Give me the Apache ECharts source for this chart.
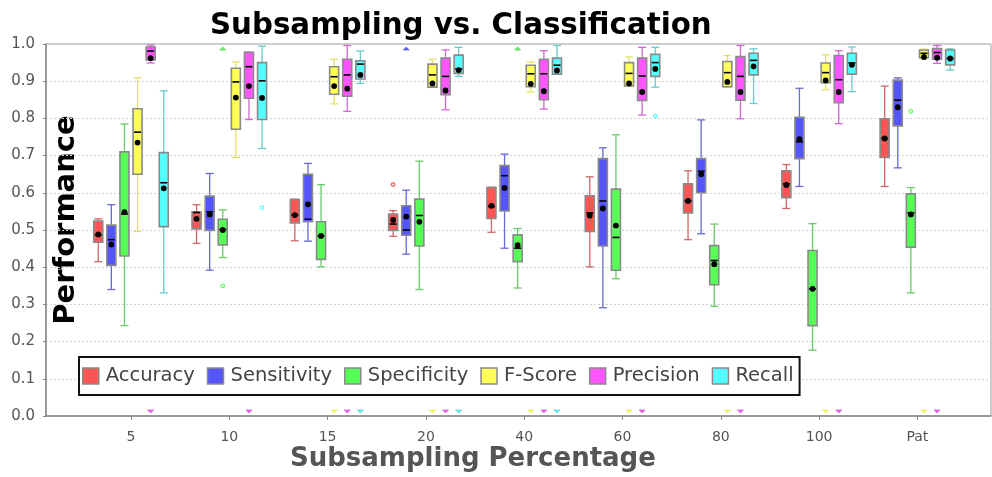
<!DOCTYPE html>
<html>
<head>
<meta charset="utf-8">
<script src="https://cdn.jsdelivr.net/npm/echarts@6/dist/echarts.min.js"></script>
<style>
  html, body { margin: 0; padding: 0; background: #fff; }
  #chart { width: 992px; height: 477px; }
</style>
</head>
<body>
<div id="chart"></div>
<script>
// Subsampling levels on the x axis
const categories = ['5', '10', '15', '20', '40', '60', '80', '100', 'Pat'];
const metricNames = ['Accuracy', 'Sensitivity', 'Specificity', 'F-Score', 'Precision', 'Recall'];

// Box statistics per level: [min, Q1, median, Q3, max]
const accuracyBox = [
  [0.415, 0.467, 0.487, 0.524, 0.530], [0.464, 0.503, 0.547, 0.549, 0.568],
  [0.471, 0.519, 0.540, 0.582, 0.583], [0.483, 0.499, 0.516, 0.543, 0.552],
  [0.494, 0.531, 0.563, 0.614, 0.615], [0.401, 0.496, 0.546, 0.592, 0.643],
  [0.474, 0.546, 0.578, 0.624, 0.659], [0.558, 0.587, 0.624, 0.659, 0.676],
  [0.617, 0.695, 0.746, 0.799, 0.887]
];
const accuracyMean = [0.488, 0.530, 0.540, 0.527, 0.565, 0.539, 0.578, 0.621, 0.746];

const sensitivityBox = [
  [0.340, 0.405, 0.474, 0.513, 0.568], [0.392, 0.499, 0.549, 0.591, 0.652],
  [0.470, 0.522, 0.529, 0.650, 0.679], [0.435, 0.486, 0.500, 0.565, 0.607],
  [0.451, 0.551, 0.646, 0.673, 0.704], [0.291, 0.457, 0.578, 0.692, 0.721],
  [0.490, 0.600, 0.658, 0.692, 0.796], [0.617, 0.692, 0.737, 0.803, 0.881],
  [0.667, 0.780, 0.849, 0.903, 0.909]
];
const sensitivityMean = [0.461, 0.542, 0.569, 0.536, 0.613, 0.558, 0.650, 0.744, 0.830];

const specificityBox = [
  [0.243, 0.430, 0.543, 0.710, 0.785], [0.426, 0.460, 0.501, 0.529, 0.554],
  [0.401, 0.421, 0.484, 0.522, 0.622], [0.340, 0.457, 0.539, 0.583, 0.685],
  [0.344, 0.415, 0.451, 0.487, 0.504], [0.369, 0.392, 0.480, 0.610, 0.756],
  [0.295, 0.353, 0.418, 0.458, 0.516], [0.177, 0.243, 0.342, 0.445, 0.517],
  [0.331, 0.454, 0.546, 0.597, 0.614]
];
const specificityMean = [0.548, 0.500, 0.484, 0.522, 0.459, 0.512, 0.408, 0.342, 0.542];

const fScoreBox = [
  [0.496, 0.650, 0.763, 0.826, 0.909], [0.695, 0.771, 0.898, 0.935, 0.952],
  [0.839, 0.865, 0.912, 0.939, 0.959], [0.883, 0.884, 0.917, 0.946, 0.959],
  [0.871, 0.885, 0.920, 0.943, 0.952], [0.887, 0.887, 0.921, 0.950, 0.965],
  [0.884, 0.885, 0.923, 0.953, 0.969], [0.877, 0.896, 0.923, 0.949, 0.971],
  [0.960, 0.963, 0.975, 0.984, 0.986]
];
const fScoreMean = [0.735, 0.856, 0.887, 0.894, 0.893, 0.894, 0.898, 0.902, 0.965];

const precisionBox = [
  [0.949, 0.957, 0.981, 0.992, 0.997], [0.797, 0.854, 0.939, 0.978, 0.978],
  [0.819, 0.860, 0.917, 0.959, 0.996], [0.823, 0.864, 0.913, 0.962, 0.984],
  [0.825, 0.850, 0.920, 0.959, 0.982], [0.809, 0.848, 0.914, 0.962, 0.991],
  [0.799, 0.849, 0.913, 0.966, 0.996], [0.786, 0.842, 0.904, 0.969, 0.982],
  [0.948, 0.959, 0.977, 0.988, 0.996]
];
const precisionMean = [0.962, 0.887, 0.880, 0.875, 0.873, 0.871, 0.871, 0.871, 0.963];

const recallBox = [
  [0.331, 0.509, 0.627, 0.708, 0.874], [0.719, 0.797, 0.901, 0.950, 0.994],
  [0.894, 0.906, 0.946, 0.955, 0.981], [0.913, 0.921, 0.933, 0.970, 0.991],
  [0.919, 0.919, 0.943, 0.962, 0.996], [0.884, 0.913, 0.950, 0.972, 0.991],
  [0.840, 0.917, 0.956, 0.975, 0.987], [0.872, 0.919, 0.949, 0.975, 0.992],
  [0.930, 0.944, 0.961, 0.984, 0.987]
];
const recallMean = [0.612, 0.855, 0.917, 0.930, 0.929, 0.933, 0.940, 0.944, 0.961];

// Single outliers: [metric, level, value]
const outliers = [
  ['Accuracy', '20', 0.622],
  ['Specificity', '10', 0.350],
  ['Specificity', 'Pat', 0.819],
  ['Recall', '10', 0.560],
  ['Recall', '60', 0.806]
];

// Far-out markers, drawn at the upper / lower bound of the value axis
const farOutHigh = [['Specificity', '10'], ['Sensitivity', '20'], ['Specificity', '40']];
const farOutLow = [
  ['Precision', '5'], ['Precision', '10'],
  ['F-Score', '15'], ['Precision', '15'], ['Recall', '15'],
  ['F-Score', '20'], ['Precision', '20'], ['Recall', '20'],
  ['F-Score', '40'], ['Precision', '40'], ['Recall', '40'],
  ['F-Score', '60'], ['Precision', '60'],
  ['F-Score', '80'], ['Precision', '80'],
  ['F-Score', '100'], ['Precision', '100'],
  ['F-Score', 'Pat'], ['Precision', 'Pat']
];

const boxes = [accuracyBox, sensitivityBox, specificityBox, fScoreBox, precisionBox, recallBox];
const means = [accuracyMean, sensitivityMean, specificityMean, fScoreMean, precisionMean, recallMean];

const fillColors = ['#ff5555', '#5555ff', '#55ff55', '#ffff55', '#ff55ff', '#55ffff'];
const whiskerColors = ['#d06868', '#6868d8', '#68cc68', '#e2e26a', '#d068d0', '#68cccc'];
const FONT = '"DejaVu Sans", Verdana, sans-serif';
const AXIS_MIN = 0, AXIS_MAX = 1;

function makeRenderer(k) {
  const name = metricNames[k];
  const BOX_STEP_RATIO = 0.1333;   // spacing of the six boxes, as share of the band
  const BOX_W = 9;
  return function (params, api) {
    const idx = api.value(0);
    const cat = categories[idx];
    const band = api.size([1, 0])[0];
    const x = api.coord([idx, 0])[0] + (k - 2.5) * band * BOX_STEP_RATIO;
    const py = v => api.coord([idx, v])[1];
    const half = BOX_W / 2;
    const wc = whiskerColors[k];
    const yMin = py(api.value(1)), yQ1 = py(api.value(2)), yMed = py(api.value(3));
    const yQ3 = py(api.value(4)), yMax = py(api.value(5)), yMean = py(api.value(6));
    const wStyle = { stroke: wc, lineWidth: 1.3 };
    const children = [
      { type: 'line', shape: { x1: x, y1: yMax, x2: x, y2: yMin }, style: wStyle },
      { type: 'line', shape: { x1: x - half + 0.5, y1: yMax, x2: x + half - 0.5, y2: yMax }, style: wStyle },
      { type: 'line', shape: { x1: x - half + 0.5, y1: yMin, x2: x + half - 0.5, y2: yMin }, style: wStyle },
      { type: 'rect', shape: { x: x - half, y: yQ3, width: BOX_W, height: yQ1 - yQ3 },
        style: { fill: fillColors[k], stroke: '#8a8a8a', lineWidth: 1.6 } },
      { type: 'line', shape: { x1: x - half + 1, y1: yMed, x2: x + half - 1, y2: yMed },
        style: { stroke: '#000', lineWidth: 1.6 } },
      { type: 'circle', shape: { cx: x, cy: yMean, r: 2.9 }, style: { fill: '#000' } }
    ];
    outliers.forEach(o => {
      if (o[0] === name && o[1] === cat) {
        children.push({ type: 'circle', shape: { cx: x, cy: py(o[2]), r: 1.8 },
          style: { fill: 'none', stroke: fillColors[k], lineWidth: 1.2 } });
      }
    });
    const a = 3;
    farOutHigh.forEach(o => {
      if (o[0] === name && o[1] === cat) {
        const t = py(AXIS_MAX) + a;
        children.push({ type: 'polygon', shape: { points: [[x - a, t + a], [x + a, t + a], [x, t]] },
          style: { fill: fillColors[k], stroke: wc, lineWidth: 0.8 } });
      }
    });
    farOutLow.forEach(o => {
      if (o[0] === name && o[1] === cat) {
        const t = py(AXIS_MIN) - a;
        children.push({ type: 'polygon', shape: { points: [[x - a, t - a], [x + a, t - a], [x, t]] },
          style: { fill: fillColors[k], stroke: wc, lineWidth: 0.8 } });
      }
    });
    return { type: 'group', children };
  };
}

const series = metricNames.map((name, k) => ({
  name,
  type: 'custom',
  xAxisIndex: 1,
  yAxisIndex: 1,
  itemStyle: { color: fillColors[k] },
  renderItem: makeRenderer(k),
  encode: { x: 0, y: [1, 2, 3, 4, 5] },
  data: boxes[k].map((b, i) => [i, b[0], b[1], b[2], b[3], b[4], means[k][i]])
}));

const chart = echarts.init(document.getElementById('chart'), null, { renderer: 'canvas' });
chart.setOption({
  backgroundColor: '#fff',
  animation: false,
  title: [
    { text: 'Subsampling vs. Classification', left: 210, top: 12, padding: 0,
      textStyle: { fontFamily: FONT, fontWeight: 'bold', fontSize: 29.3, color: '#000' } },
    { text: 'Subsampling Percentage', left: 290, top: 446, padding: 0,
      textStyle: { fontFamily: FONT, fontWeight: 'bold', fontSize: 26, color: '#555' } }
  ],
  graphic: [
    { type: 'text', x: 66, y: 220, rotation: Math.PI / 2,
      style: { text: 'Performance', fontFamily: FONT, fontWeight: 'bold', fontSize: 29,
               fill: '#000', align: 'center', verticalAlign: 'middle' } }
  ],
  legend: {
    data: metricNames,
    left: 79, top: 357,
    orient: 'horizontal',
    icon: 'rect',
    itemWidth: 16, itemHeight: 16, itemGap: 12,
    padding: [9, 6, 9, 3],
    backgroundColor: '#fff',
    borderColor: '#111', borderWidth: 2, borderRadius: 0,
    itemStyle: { borderColor: '#888', borderWidth: 1.5 },
    textStyle: { fontFamily: FONT, fontSize: 19.5, color: '#444', padding: [0, 0, 0, 2] },
    selectedMode: false
  },
  grid: [
    { left: 46, right: 1, top: 44, bottom: 61, show: true, borderColor: '#999', borderWidth: 1, backgroundColor: '#fff' },
    { left: 81.85, right: 25.45, top: 44, bottom: 61 }
  ],
  xAxis: [
    { type: 'value', gridIndex: 0, min: 0, max: 1, offset: 5,
      axisLine: { show: true, lineStyle: { color: '#888', width: 1.5 } },
      axisTick: { show: false }, axisLabel: { show: false }, splitLine: { show: false } },
    { type: 'category', gridIndex: 1, data: categories, offset: 5, boundaryGap: true,
      axisLine: { show: false },
      axisTick: { show: true, alignWithLabel: true, length: 4, lineStyle: { color: '#888' } },
      axisLabel: { interval: 0, margin: 9, fontFamily: FONT, fontSize: 14, color: '#555' },
      splitLine: { show: false } }
  ],
  yAxis: [
    { type: 'value', gridIndex: 0, min: AXIS_MIN, max: AXIS_MAX, interval: 0.1, offset: 5,
      axisLine: { show: true, lineStyle: { color: '#888', width: 1.5 } },
      axisTick: { show: true, length: 3, lineStyle: { color: '#888' } },
      axisLabel: { margin: 6, fontFamily: FONT, fontSize: 15, color: '#555',
                   formatter: v => v.toFixed(1) },
      splitLine: { show: true, lineStyle: { color: '#d4d4d4', type: [2, 2], width: 1 } } },
    { type: 'value', gridIndex: 1, min: AXIS_MIN, max: AXIS_MAX, show: false,
      splitLine: { show: false } }
  ],
  series
});
</script>
</body>
</html>
